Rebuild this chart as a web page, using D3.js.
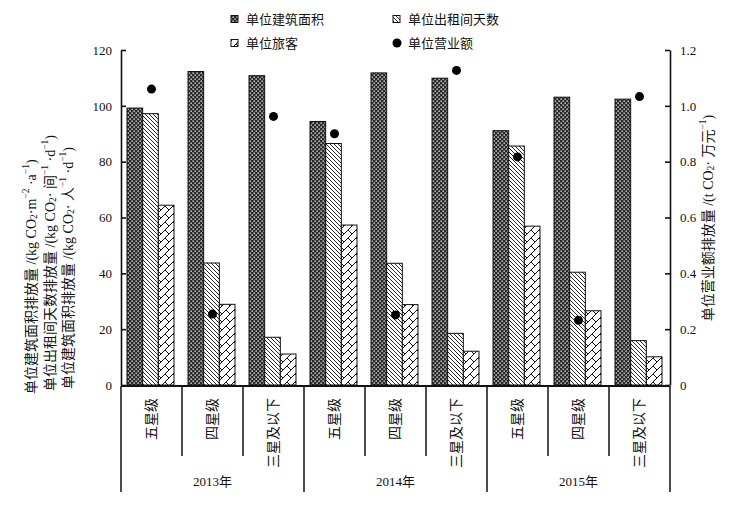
<!DOCTYPE html>
<html>
<head>
<meta charset="utf-8">
<script src="https://cdn.jsdelivr.net/npm/d3@7"></script>
<style>
  body { margin: 0; background: #fff; }
  text { font-family: "Liberation Serif", "Noto Sans CJK SC", serif; fill: #111; }
</style>
</head>
<body>
<div class="chart"></div>
<script>
// data
var years = ["2013年", "2014年", "2015年"];
var grades = ["五星级", "四星级", "三星及以下"];
var seriesNames = ["单位建筑面积", "单位出租间天数", "单位旅客", "单位营业额"];
var area = [99.2, 112.3, 110.8, 94.4, 111.8, 109.9, 91.1, 103.1, 102.4];
var roomDay = [97.2, 43.7, 17.1, 86.5, 43.6, 18.5, 85.6, 40.4, 15.9];
var tourist = [64.4, 28.9, 11.1, 57.3, 28.8, 12.1, 56.9, 26.6, 10.1];
var revenue = [1.06, 0.254, 0.962, 0.90, 0.251, 1.127, 0.817, 0.232, 1.033];
var leftTicks = [0, 20, 40, 60, 80, 100, 120];
var rightTicks = [0, 0.2, 0.4, 0.6, 0.8, 1.0, 1.2];

var svgWidth = 740, svgHeight = 507;
var margin = { top: 50, right: 70, bottom: 122, left: 121 };
var width = svgWidth - margin.left - margin.right;
var height = svgHeight - margin.top - margin.bottom;

var svg = d3.select(".chart").append("svg")
  .attr("width", svgWidth)
  .attr("height", svgHeight);

// patterns
var defs = svg.append("defs");
var p1 = defs.append("pattern").attr("id", "pArea")
  .attr("patternUnits", "userSpaceOnUse").attr("width", 4).attr("height", 4);
p1.append("rect").attr("width", 4).attr("height", 4).attr("fill", "#2a2a2a");
p1.append("rect").attr("x", 0.5).attr("y", 0.5).attr("width", 1.3).attr("height", 1.3).attr("fill", "#fff");
p1.append("rect").attr("x", 2.5).attr("y", 2.5).attr("width", 1.3).attr("height", 1.3).attr("fill", "#fff");

var p2 = defs.append("pattern").attr("id", "pRoom")
  .attr("patternUnits", "userSpaceOnUse").attr("width", 4).attr("height", 4);
p2.append("rect").attr("width", 4).attr("height", 4).attr("fill", "#fff");
p2.append("path").attr("d", "M-1,-1 L5,5 M-1,3 L1,5 M3,-1 L5,1")
  .attr("stroke", "#111").attr("stroke-width", 0.9);

var p3 = defs.append("pattern").attr("id", "pTour")
  .attr("patternUnits", "userSpaceOnUse").attr("width", 8).attr("height", 8);
p3.append("rect").attr("width", 8).attr("height", 8).attr("fill", "#fff");
p3.append("path").attr("d", "M0,8 L8,0 M4,4 L8,8 M0,4 L-4,0 M-1,1 L0,0")
  .attr("stroke", "#111").attr("stroke-width", 1).attr("fill", "none");

var fills = ["url(#pArea)", "url(#pRoom)", "url(#pTour)"];

var g = svg.append("g").attr("transform", `translate(${margin.left}, ${margin.top})`);

// scales
var cats = [];
years.forEach(function(y) { grades.forEach(function(gr) { cats.push(y + "|" + gr); }); });

var x0 = d3.scaleBand().domain(cats).range([0, width]);
var x1 = d3.scaleBand().domain([0, 1, 2]).range([6, x0.bandwidth() - 8]);
var yL = d3.scaleLinear().domain([0, 120]).range([height, 0]);
var yR = d3.scaleLinear().domain([0, 1.2]).range([height, 0]);
var xYear = d3.scaleBand().domain(years).range([0, width]);

var rows = cats.map(function(c, i) {
  return { cat: c, vals: [area[i], roomDay[i], tourist[i]], rev: revenue[i] };
});

// bars
var grp = g.selectAll(".cat").data(rows).enter().append("g")
  .attr("transform", function(d) { return `translate(${x0(d.cat)},0)`; });

grp.selectAll("rect").data(function(d) { return d.vals; }).enter().append("rect")
  .attr("x", function(d, i) { return x1(i); })
  .attr("width", x1.bandwidth())
  .attr("y", function(d) { return yL(d); })
  .attr("height", function(d) { return height - yL(d); })
  .attr("fill", function(d, i) { return fills[i]; })
  .attr("stroke", "#111").attr("stroke-width", 1);

// revenue dots
g.selectAll(".dot").data(rows).enter().append("circle")
  .attr("cx", function(d) { return x0(d.cat) + x0.bandwidth() / 2; })
  .attr("cy", function(d) { return yR(d.rev); })
  .attr("r", 4.5).attr("fill", "#000");

// axes
var axL = g.append("g").call(d3.axisLeft(yL).tickValues(leftTicks).tickSize(-5).tickSizeOuter(0).tickPadding(9));
var axR = g.append("g").attr("transform", `translate(${width},0)`)
  .call(d3.axisRight(yR).tickValues(rightTicks).tickSize(-5).tickSizeOuter(0).tickPadding(10)
    .tickFormat(function(d) { return d === 0 ? "0" : d3.format(".1f")(d); }));
[axL, axR].forEach(function(a) {
  a.selectAll("path, line").attr("stroke", "#111").attr("stroke-width", 1.6);
  a.selectAll("text").style("font-size", "13px").attr("fill", "#222");
});

// x axis line and separators
g.append("line").attr("x1", 0).attr("x2", width).attr("y1", height + 1).attr("y2", height + 1)
  .attr("stroke", "#111").attr("stroke-width", 1.8);

cats.forEach(function(c, i) {
  if (i % 3 === 0) return;
  g.append("line").attr("x1", x0(c)).attr("x2", x0(c))
    .attr("y1", height + 1).attr("y2", height + 71)
    .attr("stroke", "#111").attr("stroke-width", 1.5);
});
years.concat(["end"]).forEach(function(y, i) {
  var xx = i < years.length ? xYear(y) : width;
  g.append("line").attr("x1", xx).attr("x2", xx)
    .attr("y1", height + 1).attr("y2", height + 107)
    .attr("stroke", "#111").attr("stroke-width", 1.5);
});

// category labels (vertical)
rows.forEach(function(d) {
  var cx = x0(d.cat) + x0.bandwidth() / 2;
  g.append("text")
    .attr("transform", `translate(${cx},${height + 13}) rotate(-90)`)
    .attr("text-anchor", "end")
    .attr("dominant-baseline", "central")
    .style("font-size", "14px")
    .text(d.cat.split("|")[1]);
});

years.forEach(function(y) {
  g.append("text")
    .attr("x", xYear(y) + xYear.bandwidth() / 2)
    .attr("y", height + 101)
    .attr("text-anchor", "middle")
    .style("font-size", "13px")
    .text(y);
});

// rich text helper for sub/superscripts
function richText(sel, parts) {
  parts.forEach(function(p) {
    var t = sel.append("tspan").text(p.t);
    if (p.s === "sub") t.style("font-size", "9.5px").attr("baseline-shift", "-25%");
    if (p.s === "sup") t.style("font-size", "9.5px").attr("baseline-shift", "50%");
  });
}

var leftTitles = [
  { x: 31, y: 394, parts: [{ t: "单位建筑面积排放量 /(kg CO" }, { t: "2", s: "sub" }, { t: "·m" }, { t: "−2", s: "sup" }, { t: " ·a" }, { t: "−1", s: "sup" }, { t: ")" }] },
  { x: 50, y: 391, parts: [{ t: "单位出租间天数排放量 /(kg CO" }, { t: "2", s: "sub" }, { t: "· 间" }, { t: "−1", s: "sup" }, { t: " ·d" }, { t: "−1", s: "sup" }, { t: ")" }] },
  { x: 68, y: 389, parts: [{ t: "单位建筑面积排放量 /(kg CO" }, { t: "2", s: "sub" }, { t: "· 人" }, { t: "−1", s: "sup" }, { t: " ·d" }, { t: "−1", s: "sup" }, { t: ")" }] }
];
leftTitles.forEach(function(lt) {
  var t = svg.append("text")
    .attr("transform", `translate(${lt.x},${lt.y}) rotate(-90)`)
    .attr("text-anchor", "start")
    .attr("dominant-baseline", "central")
    .style("font-size", "14px");
  richText(t, lt.parts);
});

var rt = svg.append("text")
  .attr("transform", `translate(708,218) rotate(-90)`)
  .attr("text-anchor", "middle")
  .attr("dominant-baseline", "central")
  .style("font-size", "14px");
richText(rt, [{ t: "单位营业额排放量 /(t CO" }, { t: "2", s: "sub" }, { t: "· 万元" }, { t: "−1", s: "sup" }, { t: ")" }]);

// legend
var legendItems = [
  { name: seriesNames[0], x: 231, y: 19, fill: fills[0] },
  { name: seriesNames[1], x: 393, y: 19, fill: fills[1] },
  { name: seriesNames[2], x: 231, y: 43, fill: fills[2] },
  { name: seriesNames[3], x: 393, y: 43, dot: true }
];
legendItems.forEach(function(li) {
  if (li.dot) {
    svg.append("circle").attr("cx", li.x + 4).attr("cy", li.y).attr("r", 4.5).attr("fill", "#000");
  } else {
    svg.append("rect").attr("x", li.x).attr("y", li.y - 3.5).attr("width", 7).attr("height", 7)
      .attr("fill", li.fill).attr("stroke", "#111").attr("stroke-width", 1);
  }
  svg.append("text").attr("x", li.x + 15).attr("y", li.y)
    .attr("dominant-baseline", "central")
    .style("font-size", "13px")
    .text(li.name);
});
</script>
</body>
</html>
